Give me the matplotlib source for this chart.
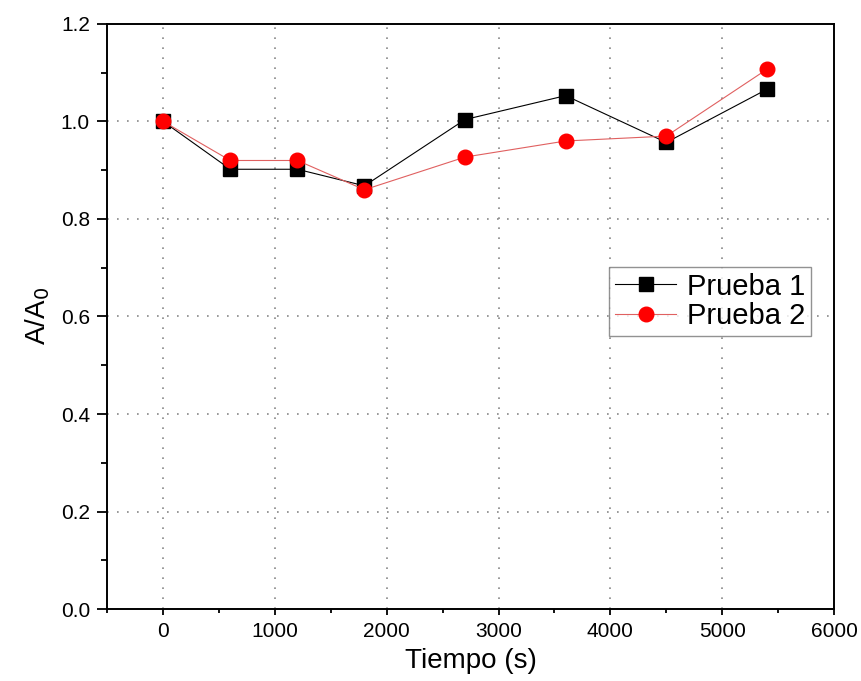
import matplotlib
matplotlib.use("Agg")
import matplotlib.pyplot as plt
from matplotlib.ticker import MultipleLocator

plt.rcParams['font.family'] = ['Liberation Sans', 'DejaVu Sans']

tiempo = [0, 600, 1200, 1800, 2700, 3600, 4500, 5400]
prueba1 = [1.000, 0.902, 0.902, 0.868, 1.004, 1.053, 0.957, 1.066]
prueba2 = [1.000, 0.920, 0.920, 0.860, 0.927, 0.960, 0.970, 1.107]

fig = plt.figure(figsize=(8.62, 6.81), dpi=100)
ax = fig.add_axes([0.1245, 0.1057, 0.843, 0.8591])

ax.plot(tiempo, prueba1, color='black', lw=0.8, marker='s', ms=9.5,
        mfc='black', mec='black', label='Prueba 1', zorder=3)
ax.plot(tiempo, prueba2, color='#e06060', lw=0.8, marker='o', ms=10.5,
        mfc='red', mec='red', label='Prueba 2', zorder=4)

ax.set_xlim(-500, 6000)
ax.set_ylim(0.0, 1.2)
ax.xaxis.set_major_locator(MultipleLocator(1000))
ax.xaxis.set_minor_locator(MultipleLocator(500))
ax.yaxis.set_major_locator(MultipleLocator(0.2))
ax.yaxis.set_minor_locator(MultipleLocator(0.1))
ax.set_yticklabels([f"{v:.1f}" for v in ax.get_yticks()])

ax.grid(True, which='major', color='#888888', linestyle=(0, (1, 5)), linewidth=1.2)
ax.set_axisbelow(True)

ax.tick_params(which='both', direction='out', width=1.3, labelsize=15)
ax.tick_params(axis='y', which='major', length=7.5, pad=5)
ax.tick_params(axis='y', which='minor', length=4)
ax.tick_params(axis='x', which='major', length=4.5, pad=5)
ax.tick_params(axis='x', which='minor', length=3)
ax.tick_params(top=False, right=False, which='both')
for s in ax.spines.values():
    s.set_linewidth(1.4)

ax.set_xlabel('Tiempo (s)', fontsize=20, labelpad=5)
ax.set_ylabel('A/A$_0$', fontsize=20, labelpad=6)

leg = ax.legend(loc='upper right', bbox_to_anchor=(0.968, 0.585), fontsize=21,
                frameon=True, fancybox=False, edgecolor='#777777',
                handlelength=2.1, handletextpad=0.35, borderpad=0.2,
                labelspacing=0.05, borderaxespad=0)
leg.get_frame().set_linewidth(1.0)

fig.savefig('out.png', dpi=100)
